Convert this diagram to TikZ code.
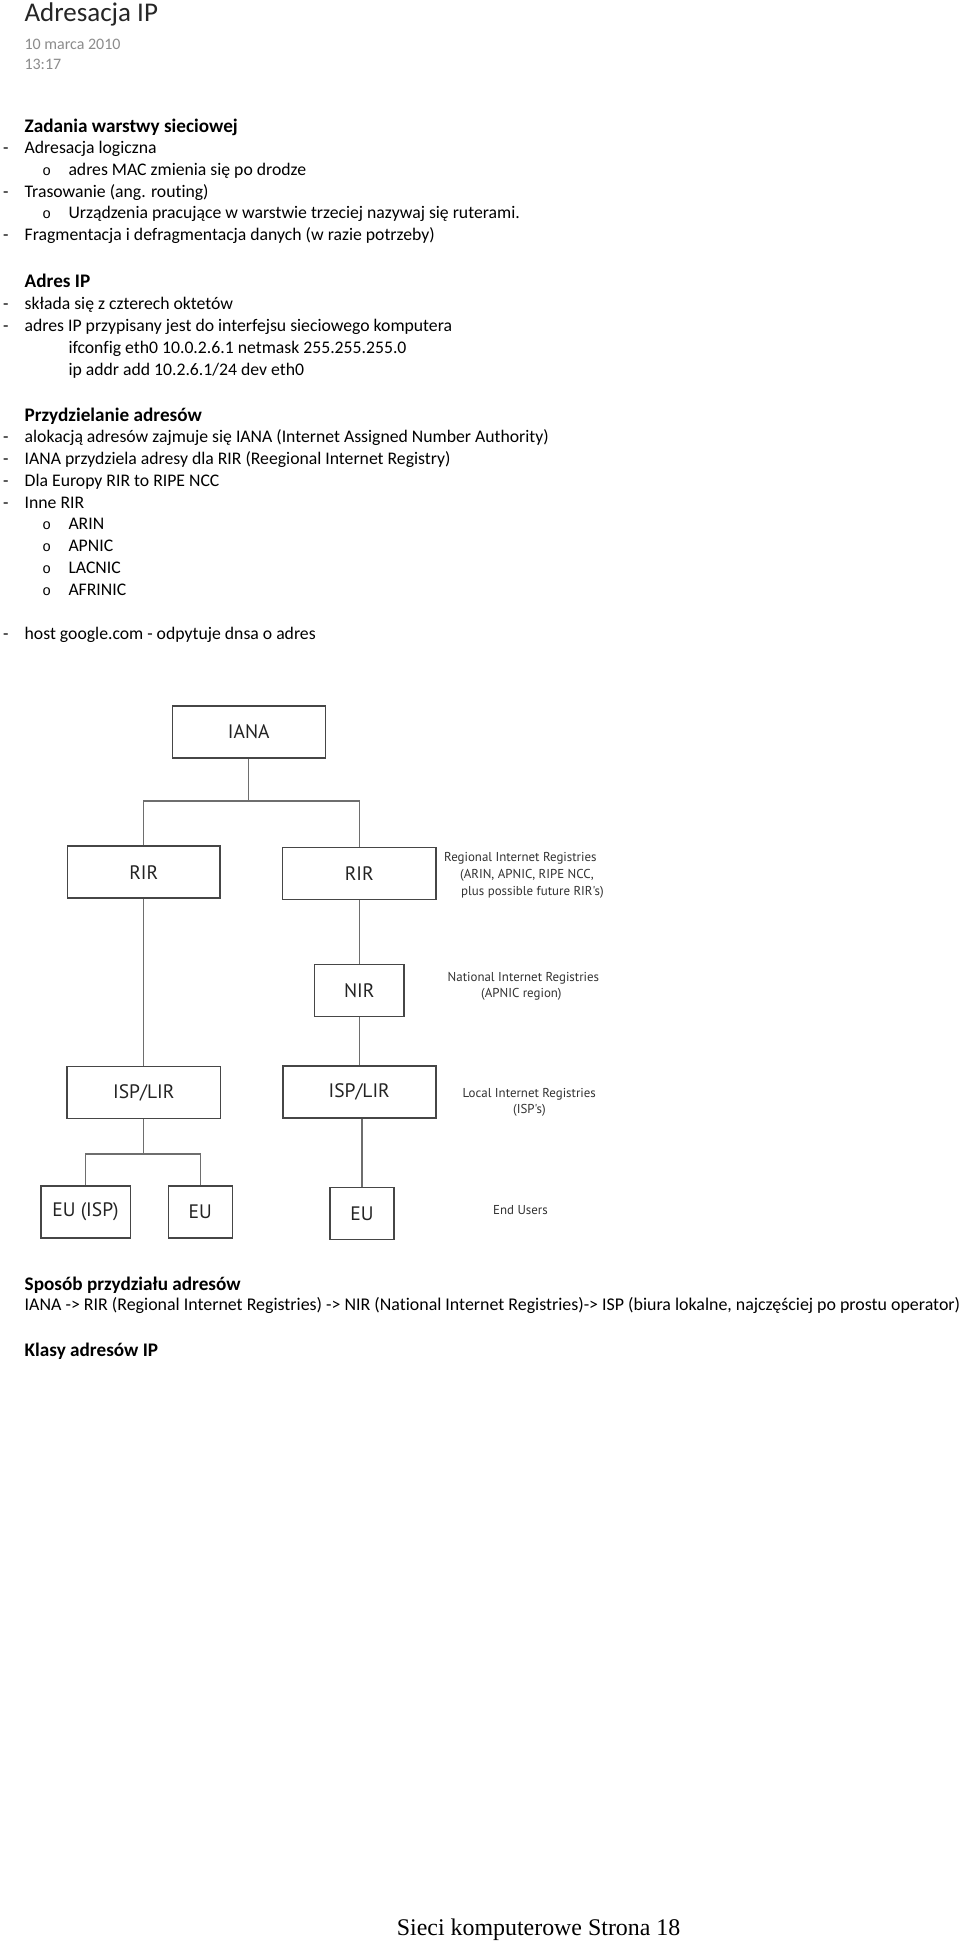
\documentclass[tikz,border=0pt]{standalone}
\usepackage{fontspec}
\setmainfont{Carlito}[Ligatures=NoCommon]
\newfontfamily\diagf{PT Sans}
\newfontfamily\monof{Liberation Mono}
\newfontfamily\footf{Liberation Serif}
\definecolor{datec}{RGB}{140,140,140}
\definecolor{boxc}{RGB}{70,70,70}
\definecolor{linec}{RGB}{110,110,110}
\definecolor{txtc}{RGB}{35,35,35}
\definecolor{labc}{RGB}{50,50,50}
\tikzset{
  body/.style={anchor=base west, inner sep=0pt, font=\fontsize{17.7}{21}\selectfont},
  head/.style={anchor=base west, inner sep=0pt, font=\fontsize{19.2}{23}\selectfont\bfseries},
  ring/.style={anchor=base west, inner sep=0pt, font=\monof\fontsize{14.5}{16}\selectfont},
  regbox/.style={draw=boxc, line width=1.6pt, inner sep=0pt, font=\diagf\fontsize{19.5}{22}\selectfont, text=txtc},
  conn/.style={draw=linec, line width=1.3pt},
  lab/.style={anchor=base west, inner sep=0pt, font=\diagf\fontsize{12.9}{15}\selectfont, text=labc},
}
\begin{document}
\begin{tikzpicture}[x=1pt,y=-1pt]
\fill[white] (0,0) rectangle (960,1941);
\useasboundingbox (0,0) rectangle (960,1941);

% header
\node[anchor=base west, inner sep=0pt, font=\fontsize{27}{30}\selectfont, text=black!85] (title) at (24.3,21) {Adresacja IP};
\node[anchor=base west, inner sep=0pt, font=\fontsize{16}{19}\selectfont, text=datec] (date) at (24.3,49.3) {10 marca 2010};
\node[anchor=base west, inner sep=0pt, font=\fontsize{16}{19}\selectfont, text=datec] (time) at (24.3,69) {13:17};

% section 1
\node[head] (h1) at (24.5,132) {Zadania warstwy sieciowej};
\node[body] (d1) at (3,153.5) {-};
\node[body] (t1) at (24.5,153.5) {Adresacja logiczna};
\node[ring] (r1) at (42.2,175.3) {o};
\node[body] (t2) at (68.3,175.3) {adres MAC zmienia się po drodze};
\node[body] (d3) at (3,197) {-};
\node[body] (t3) at (24.5,197) {Trasowanie (ang. routing)};
\node[ring] (r4) at (42.2,218.8) {o};
\node[body] (t4) at (68.3,218.8) {Urządzenia pracujące w warstwie trzeciej nazywaj się ruterami.};
\node[body] (d5) at (3,240.6) {-};
\node[body] (t5) at (24.5,240.6) {Fragmentacja i defragmentacja danych (w razie potrzeby)};

% section 2
\node[head] (h2) at (24.5,287) {Adres IP};
\node[body] (d6) at (3,309.5) {-};
\node[body] (t6) at (24.5,309.5) {składa się z czterech oktetów};
\node[body] (d7) at (3,331.3) {-};
\node[body] (t7) at (24.5,331.3) {adres IP przypisany jest do interfejsu sieciowego komputera};
\node[body] (t8) at (68.3,353) {ifconfig eth0 10.0.2.6.1 netmask 255.255.255.0};
\node[body] (t9) at (68.3,375) {ip addr add 10.2.6.1/24 dev eth0};

% section 3
\node[head] (h3) at (24.5,421) {Przydzielanie adresów};
\node[body] (d10) at (3,442.7) {-};
\node[body] (t10) at (24.5,442.7) {alokacją adresów zajmuje się IANA (Internet Assigned Number Authority)};
\node[body] (d11) at (3,464.5) {-};
\node[body] (t11) at (24.5,464.5) {IANA przydziela adresy dla RIR (Reegional Internet Registry)};
\node[body] (d12) at (3,486.3) {-};
\node[body] (t12) at (24.5,486.3) {Dla Europy RIR to RIPE NCC};
\node[body] (d13) at (3,508) {-};
\node[body] (t13) at (24.5,508) {Inne RIR};
\node[ring] (r14) at (42.2,529.8) {o};
\node[body] (t14) at (68.3,529.8) {ARIN};
\node[ring] (r15) at (42.2,551.6) {o};
\node[body] (t15) at (68.3,551.6) {APNIC};
\node[ring] (r16) at (42.2,573.4) {o};
\node[body] (t16) at (68.3,573.4) {LACNIC};
\node[ring] (r17) at (42.2,595.2) {o};
\node[body] (t17) at (68.3,595.2) {AFRINIC};
\node[body] (d18) at (3,639) {-};
\node[body] (t18) at (24.5,639) {host google.com - odpytuje dnsa o adres};

% diagram boxes
\node[regbox, minimum width=153, minimum height=52] (iana) at (248.8,732) {IANA};
\node[regbox, minimum width=152.7, minimum height=52] (rir1) at (143.8,872.2) {RIR};
\node[regbox, minimum width=153.7, minimum height=52] (rir2) at (359.2,873.5) {RIR};
\node[regbox, minimum width=89.3, minimum height=52] (nir) at (359.2,990.5) {NIR};
\node[regbox, minimum width=153.7, minimum height=52] (isp1) at (143.8,1092.5) {ISP/LIR};
\node[regbox, minimum width=153, minimum height=52] (isp2) at (359.2,1092) {ISP/LIR};
\node[regbox, minimum width=89.6, minimum height=52] (euisp) at (85.5,1212) {EU (ISP)};
\node[regbox, minimum width=64, minimum height=52] (eu2) at (200.3,1212) {EU};
\node[regbox, minimum width=64, minimum height=52] (eu3) at (362,1213.5) {EU};

% connectors
\coordinate (j1) at (248.8,801);
\coordinate (j2) at (143.8,1154);
\draw[conn] (iana.south) -- (j1);
\draw[conn] (rir1.north) |- (j1) -| (rir2.north);
\draw[conn] (rir1.south) -- (isp1.north);
\draw[conn] (rir2.south) -- (nir.north);
\draw[conn] (nir.south) -- (isp2.north);
\draw[conn] (isp1.south) -- (j2);
\draw[conn] (euisp.north) |- (j2) -| (eu2.north);
\draw[conn] (eu3.north |- isp2.south) -- (eu3.north);

% side labels
\node[lab] (l1) at (444,861) {Regional Internet Registries};
\node[lab] (l2) at (460,878) {(ARIN, APNIC, RIPE NCC,};
\node[lab] (l3) at (461,895) {plus possible future RIR's)};
\node[lab] (l4) at (447.5,981) {National Internet Registries};
\node[lab] (l5) at (481,997) {(APNIC region)};
\node[lab] (l6) at (462.5,1097) {Local Internet Registries};
\node[lab] (l7) at (513,1113) {(ISP's)};
\node[lab] (l8) at (493,1214) {End Users};

% section 4
\node[head] (h4) at (24.5,1290.5) {Sposób przydziału adresów};
\node[body, font=\fontsize{17.9}{21}\selectfont] (t19) at (24.5,1310) {IANA -> RIR (Regional Internet Registries) -> NIR (National Internet Registries)-> ISP (biura lokalne, najczęściej po prostu operator)};
\node[head] (h5) at (24.5,1356) {Klasy adresów IP};

% footer
\node[anchor=base west, inner sep=0pt, font=\footf\fontsize{23.9}{26}\selectfont] (foot) at (396.7,1935) {Sieci komputerowe Strona 18};
\end{tikzpicture}
\end{document}
